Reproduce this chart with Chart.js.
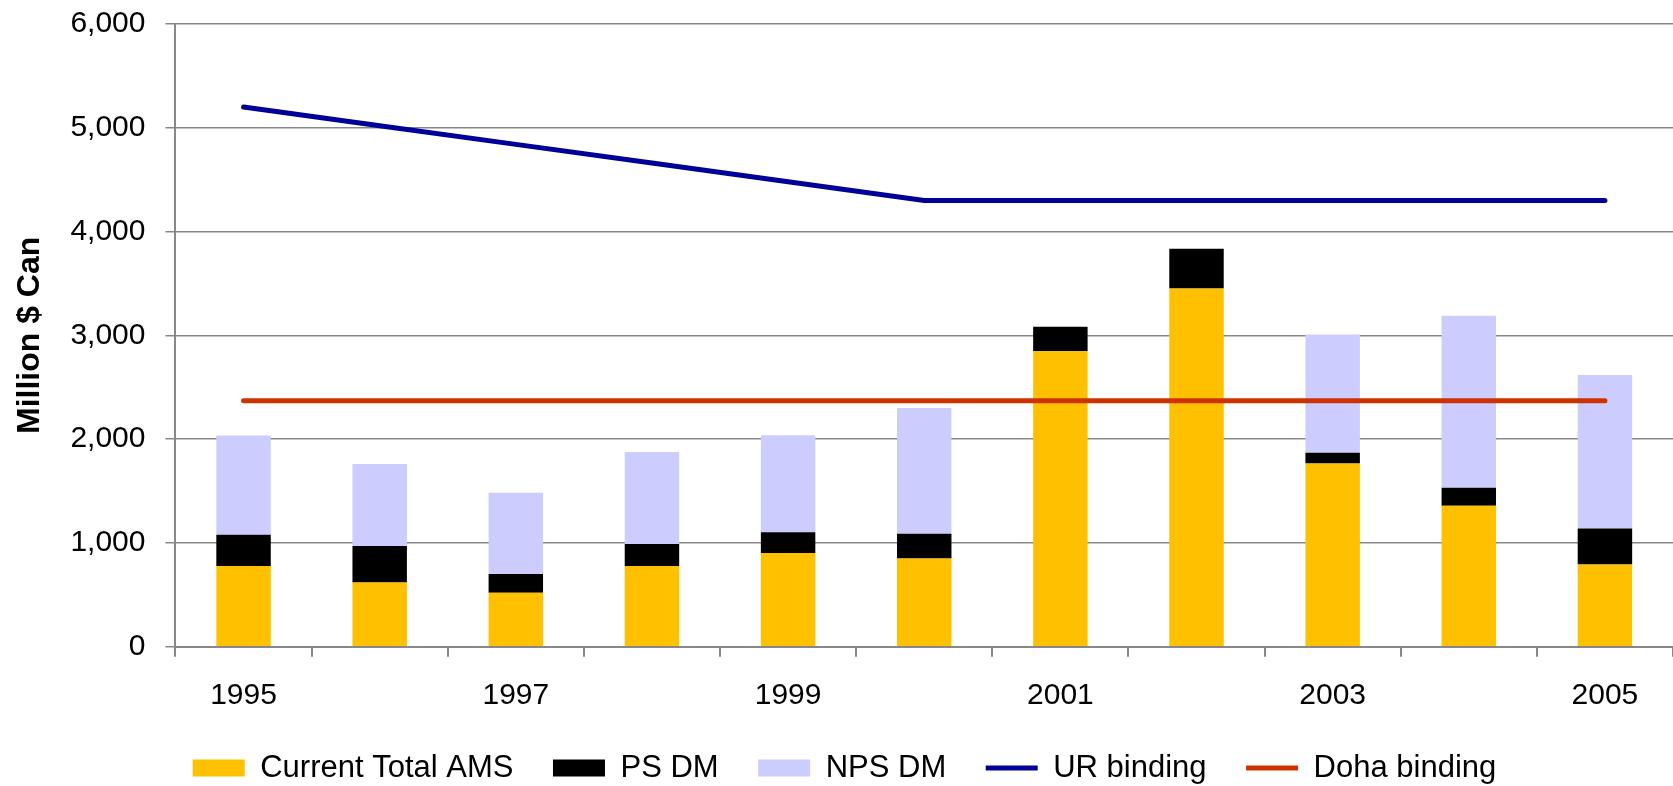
<!DOCTYPE html>
<html lang="en">
<head>
  <meta charset="UTF-8" />
  <title>Current Total AMS vs bindings</title>
  <script src="https://cdn.jsdelivr.net/npm/chart.js"></script>
  <style>
    body {
      margin: 0;
      background: #fff;
    }
    #wrap {
      width: 1673px;
      height: 786px;
    }
  </style>
</head>
<body>
  <div id="wrap"><canvas id="amsChart" width="1673" height="786"></canvas></div>

  <script>
    const years = ['1995', '1996', '1997', '1998', '1999', '2000', '2001', '2002', '2003', '2004', '2005'];
    // only every other year gets a label on the x axis
    const shownYears = ['1995', '1997', '1999', '2001', '2003', '2005'];

    const currentAMS = [778, 619, 520, 778, 903, 851, 2848, 3452, 1765, 1357, 791];
    const psDM = [300, 351, 180, 212, 200, 238, 234, 382, 105, 175, 349];
    const npsDM = [957, 790, 783, 886, 934, 1211, 0, 0, 1139, 1656, 1478];
    const urBinding = [5200, 5020, 4840, 4660, 4480, 4300, 4300, 4300, 4300, 4300, 4300];
    const dohaBinding = [2370, 2370, 2370, 2370, 2370, 2370, 2370, 2370, 2370, 2370, 2370];

    const fontFamily = '"Liberation Sans", Arial, sans-serif';
    const gridGrey = '#888888';
    const legendHeight = 73;
    const legendShift = 8;
    const xAxisHeight = 66.3;

    const barStyle = {
      type: 'bar',
      order: 1,
      borderWidth: 0,
      barPercentage: 0.4,
      categoryPercentage: 1,
      pointStyle: 'rect'
    };
    const lineStyle = {
      type: 'line',
      order: 0,
      borderWidth: 5,
      borderCapStyle: 'round',
      pointRadius: 0,
      pointHoverRadius: 0,
      tension: 0,
      fill: false,
      pointStyle: 'line'
    };

    // legend gets a fixed height so the axis and legend sit where the original has them
    const fixLegend = {
      id: 'fixLegend',
      beforeLayout(chart) {
        const lg = chart.legend;
        if (!lg || lg._fixed) return;
        const fit = lg.fit.bind(lg);
        lg.fit = function () {
          fit();
          this.height = legendHeight;
        };
        lg._fixed = true;
      },
      afterLayout(chart) {
        const lg = chart.legend;
        lg.left += legendShift;
        lg.right += legendShift;
      }
    };

    const ctx = document.getElementById('amsChart').getContext('2d');
    new Chart(ctx, {
      data: {
        labels: years,
        datasets: [
          Object.assign({ label: 'Current Total AMS', data: currentAMS, backgroundColor: '#FFC000' }, barStyle),
          Object.assign({ label: 'PS DM', data: psDM, backgroundColor: '#000000' }, barStyle),
          Object.assign({ label: 'NPS DM', data: npsDM, backgroundColor: '#CCCCFF' }, barStyle),
          Object.assign({ label: 'UR binding', data: urBinding, borderColor: '#000099', backgroundColor: '#000099', stack: 'ur' }, lineStyle),
          Object.assign({ label: 'Doha binding', data: dohaBinding, borderColor: '#CC3300', backgroundColor: '#CC3300', stack: 'doha' }, lineStyle)
        ]
      },
      plugins: [fixLegend],
      options: {
        responsive: false,
        animation: false,
        layout: {
          padding: { top: 0, left: 0, right: 0, bottom: 0 }
        },
        plugins: {
          tooltip: { enabled: false },
          legend: {
            position: 'bottom',
            labels: {
              usePointStyle: true,
              pointStyleWidth: 52,
              boxHeight: 17,
              padding: 39.5,
              color: '#000',
              font: { family: fontFamily, size: 31 },
              sort: (a, b) => a.datasetIndex - b.datasetIndex
            }
          }
        },
        scales: {
          x: {
            stacked: true,
            offset: true,
            afterFit(scale) {
              scale.height = xAxisHeight;
            },
            grid: {
              offset: true,
              drawOnChartArea: false,
              drawTicks: true,
              tickLength: 10,
              color: gridGrey,
              lineWidth: 2
            },
            border: { color: gridGrey, width: 2 },
            ticks: {
              autoSkip: false,
              maxRotation: 0,
              padding: 21,
              color: '#000',
              font: { family: fontFamily, size: 30 },
              callback: function (val) {
                const lbl = this.getLabelForValue(val);
                return shownYears.includes(lbl) ? lbl : '';
              }
            }
          },
          y: {
            stacked: true,
            min: 0,
            max: 6000,
            afterFit(scale) {
              // the tick padding should not push the plot down from the top
              scale.paddingTop = 24;
              scale.paddingBottom = 0;
            },
            grid: {
              color: gridGrey,
              lineWidth: 1.5,
              tickLength: 10
            },
            border: { color: gridGrey, width: 2 },
            ticks: {
              stepSize: 1000,
              padding: 20,
              color: '#000',
              font: { family: fontFamily, size: 30 },
              callback: v => v.toLocaleString('en-US')
            },
            title: {
              display: true,
              text: 'Million $ Can',
              color: '#000',
              font: { family: fontFamily, size: 32, weight: 'bold' },
              padding: { top: 11, bottom: 1 }
            }
          }
        }
      }
    });
  </script>
</body>
</html>
